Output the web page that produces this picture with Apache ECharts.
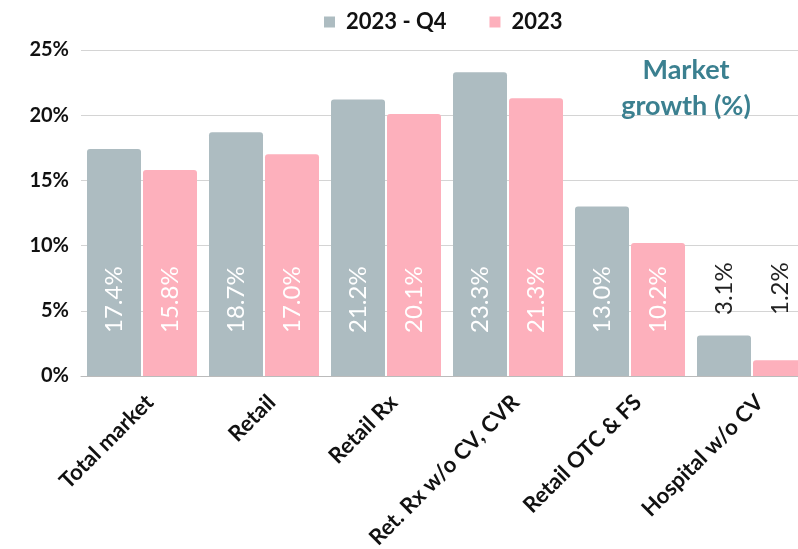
<!DOCTYPE html>
<html>
<head>
<meta charset="utf-8">
<script src="https://cdn.jsdelivr.net/npm/echarts@6/dist/echarts.min.js"></script>
<style>
  html, body { margin: 0; padding: 0; background: #fff; overflow: hidden; }
  /* wider than the window: the last bar is cut at the right edge in the reference */
  #chart { width: 822px; height: 549px; }
</style>
</head>
<body>
<div id="chart"></div>
<script>
// categories and values
const categories = ['Total market', 'Retail', 'Retail Rx', 'Ret. Rx w/o CV, CVR', 'Retail OTC & FS', 'Hospital w/o CV'];
const q4Values = [17.4, 18.7, 21.2, 23.3, 13.0, 3.1];
const yearValues = [15.8, 17.0, 20.1, 21.3, 10.2, 1.2];
const seriesNames = ['2023 - Q4', '2023'];
const yTicks = [0, 5, 10, 15, 20, 25];

const FONT = 'Lato, "Noto Sans", sans-serif';

// small bars get their label outside, in dark text
function toData(values) {
    return values.map(v => {
        if (v < 5) {
            return { value: v, label: { color: '#222', distance: 61 } };
        }
        return v;
    });
}

const barLabel = {
    show: true,
    position: 'insideBottom',
    rotate: 90,
    align: 'left',
    verticalAlign: 'middle',
    distance: 43,
    color: '#fff',
    fontFamily: FONT,
    fontSize: 24,
    formatter: p => p.value.toFixed(1) + '%'
};

const chart = echarts.init(document.getElementById('chart'));
chart.setOption({
    animation: false,
    textStyle: { fontFamily: FONT },
    title: {
        text: 'Market\ngrowth (%)',
        left: 681,
        top: 47,
        textAlign: 'center',
        textStyle: { color: '#3b8090', fontSize: 27, fontWeight: 'bold', lineHeight: 36, fontFamily: FONT }
    },
    legend: {
        left: 319,
        top: 6,
        icon: 'rect',
        itemWidth: 11,
        itemHeight: 11,
        itemGap: 43,
        textStyle: { color: '#111', fontSize: 22, fontWeight: 'bold', fontFamily: FONT, padding: [0, 0, 0, 6] },
        data: seriesNames
    },
    grid: { left: 81, right: 9, top: 50, bottom: 173, containLabel: false, outerBoundsMode: 'none' },
    xAxis: {
        type: 'category',
        data: categories,
        axisLine: { lineStyle: { color: '#bbb', width: 1 } },
        axisTick: { show: false },
        axisLabel: {
            rotate: 45,
            margin: 15,
            interval: 0,
            verticalAlign: 'top',
            color: '#111',
            fontSize: 22,
            fontWeight: 'bold',
            fontFamily: FONT
        }
    },
    yAxis: {
        type: 'value',
        min: yTicks[0],
        max: yTicks[yTicks.length - 1],
        interval: 5,
        axisLine: { show: false },
        axisTick: { show: false },
        splitLine: { lineStyle: { color: '#d4d4d4' } },
        axisLabel: {
            margin: 12,
            color: '#111',
            fontSize: 20,
            fontWeight: 'bold',
            fontFamily: FONT,
            formatter: '{value}%'
        }
    },
    series: [
        {
            name: seriesNames[0],
            type: 'bar',
            barWidth: 54,
            barGap: '3.7%',
            itemStyle: { color: '#adbcc1', borderRadius: [3, 3, 0, 0] },
            label: barLabel,
            data: toData(q4Values)
        },
        {
            name: seriesNames[1],
            type: 'bar',
            barWidth: 54,
            barGap: '3.7%',
            itemStyle: { color: '#fdb0bc', borderRadius: [3, 3, 0, 0] },
            label: barLabel,
            data: toData(yearValues)
        }
    ]
});
</script>
</body>
</html>
